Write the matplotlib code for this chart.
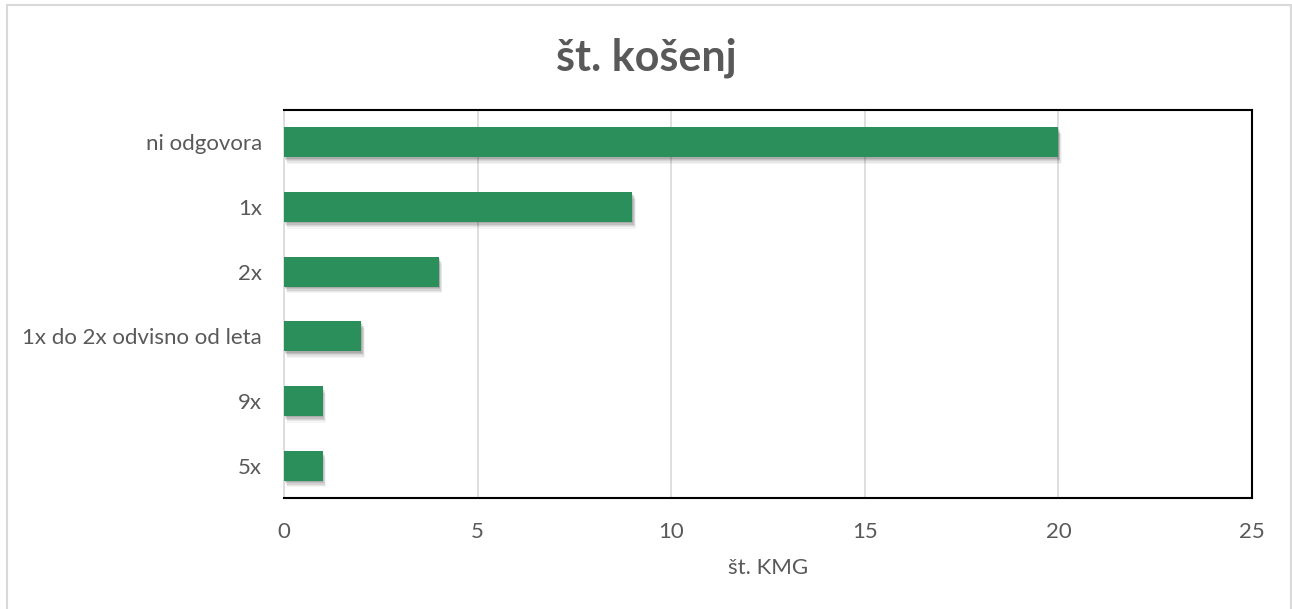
import matplotlib
matplotlib.use("Agg")
import matplotlib.pyplot as plt
from matplotlib import patheffects as pe
from matplotlib.patches import Rectangle

categories = ["ni odgovora", "1x", "2x", "1x do 2x odvisno od leta", "9x", "5x"]
values = [20, 9, 4, 2, 1, 1]
xticks = [0, 5, 10, 15, 20, 25]

plt.rcParams['font.family'] = ['Lato', 'DejaVu Sans']
TXT = "#595959"
GREEN = "#2A8F5A"

fig = plt.figure(figsize=(12.92, 6.09), dpi=100)
fig.patches.append(Rectangle((7/1292, -0.01), (1291-7)/1292, 1 - 5/609 + 0.01,
                             transform=fig.transFigure, fill=False,
                             edgecolor="#D9D9D9", linewidth=1.5))
ax = fig.add_axes([284/1292, 1 - 498/609, (1252-284)/1292, (498-110)/609])

ypos = list(range(len(categories)))[::-1]
bars = ax.barh(ypos, values, height=0.46, color=GREEN, zorder=3)
shadow = []
for dx, dy, a in [(0.5, -1.0, 0.10), (1.0, -2.0, 0.09), (1.5, -3.0, 0.08), (2.0, -4.0, 0.06), (2.5, -5.0, 0.04)]:
    shadow.append(pe.SimplePatchShadow(offset=(dx, dy), shadow_rgbFace="#000000", alpha=a))
for b in bars:
    b.set_path_effects(shadow + [pe.Normal()])

ax.set_xlim(0, 25)
ax.set_ylim(-0.5, len(categories) - 0.5)
ax.set_xticks(xticks)
ax.set_yticks(ypos)
ax.set_yticklabels(categories)
ax.tick_params(axis='both', length=0, labelsize=16, colors=TXT)
ax.tick_params(axis='x', pad=17)
ax.tick_params(axis='y', pad=16)
ax.grid(axis='x', color="#D9D9D9", linewidth=1.2, zorder=0)
ax.set_axisbelow(True)
for s in ['top', 'right', 'bottom']:
    ax.spines[s].set_color("black")
    ax.spines[s].set_linewidth(1.5)
ax.spines['left'].set_color("#D9D9D9")
ax.spines['left'].set_linewidth(1.2)

ax.set_xlabel("št. KMG", fontsize=16, color=TXT, labelpad=12)
fig.text(0.5, 1 - 58/609, "št. košenj", ha='center', va='center',
         fontsize=31, fontweight='bold', color=TXT)

fig.savefig("out.png", dpi=100)
